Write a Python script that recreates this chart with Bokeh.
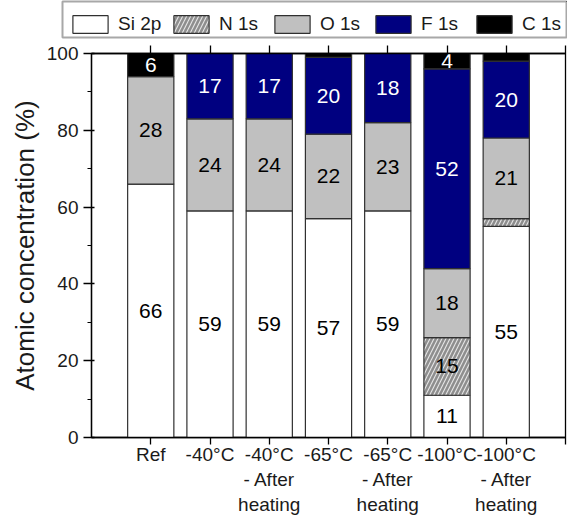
import numpy as np
from bokeh.plotting import figure
from bokeh.layouts import column
from bokeh.models import (FixedTicker, LinearAxis, Legend, LegendItem,
                          ColumnDataSource, Range1d)
from bokeh.core.properties import value
from bokeh.embed import file_html
from bokeh.resources import INLINE

categories = ["Ref", "-40°C", "-40°C\n- After\nheating", "-65°C",
              "-65°C\n- After\nheating", "-100°C", "-100°C\n- After\nheating"]
si_2p = [66, 59, 59, 57, 59, 11, 55]
n_1s = [0, 0, 0, 0, 0, 15, 2]
o_1s = [28, 24, 24, 22, 23, 18, 21]
f_1s = [0, 17, 17, 20, 18, 52, 20]
c_1s = [6, 0, 0, 1, 0, 4, 2]
series_names = ["Si 2p", "N 1s", "O 1s", "F 1s", "C 1s"]
y_ticks = [0, 20, 40, 60, 80, 100]
y_minor = [10, 30, 50, 70, 90]

FONT = "Liberation Sans"
x_pos = list(range(1, len(categories) + 1))
x_ticks = x_pos + [len(categories) + 1]

layers = [
    (si_2p, "white", " ", "black"),
    (n_1s, "#8e8e8e", "/", "black"),
    (o_1s, "#c0c0c0", " ", "black"),
    (f_1s, "#000080", " ", "white"),
    (c_1s, "black", " ", "white"),
]
bar_style = dict(line_color="#303030", line_width=1.2, hatch_color="#e6e6e6",
                 hatch_scale=8, hatch_weight=1.1)

# ---------------- main chart ----------------
p = figure(width=567, height=477, output_backend="svg", toolbar_location=None,
           x_range=Range1d(0, len(categories) + 1), y_range=Range1d(0, 100),
           min_border_left=91, min_border_right=2, min_border_top=13,
           min_border_bottom=80)
p.xgrid.visible = False
p.ygrid.visible = False
p.outline_line_color = "black"
p.outline_line_width = 1.3

xa = p.xaxis[0]
xa.ticker = FixedTicker(ticks=x_ticks)
overrides = {i + 1: c for i, c in enumerate(categories)}
overrides[len(categories) + 1] = ""
xa.major_label_overrides = overrides
xa.major_label_text_font = FONT
xa.major_label_text_font_size = "19px"
xa.major_label_text_color = "#1a1a1a"
xa.major_label_standoff = -1
xa.minor_tick_line_color = None
xa.major_tick_in = 0
xa.major_tick_out = 7
xa.major_tick_line_width = 1.3
xa.axis_line_width = 1.3

ya = p.yaxis[0]
ya.ticker = FixedTicker(ticks=y_ticks, minor_ticks=y_minor)
ya.major_label_text_font = FONT
ya.major_label_text_font_size = "19px"
ya.major_label_text_color = "#1a1a1a"
ya.major_label_standoff = 5
ya.major_tick_in = 3
ya.major_tick_out = 8
ya.minor_tick_in = 0
ya.minor_tick_out = 4
ya.major_tick_line_width = 1.3
ya.minor_tick_line_width = 1.2
ya.axis_line_width = 1.3
ya.axis_label = "Atomic concentration (%)"
ya.axis_label_text_font = FONT
ya.axis_label_text_font_size = "26px"
ya.axis_label_text_font_style = "normal"
ya.axis_label_text_color = "#1a1a1a"
ya.axis_label_standoff = 4

# top axis: tick marks only, labels not drawn
top = LinearAxis(ticker=FixedTicker(ticks=x_ticks), major_label_text_font_size="1px",
                 major_label_text_color=None, major_label_standoff=0,
                 minor_tick_line_color=None, major_tick_in=0, major_tick_out=8,
                 major_tick_line_width=1.3, axis_line_width=1.3)
p.add_layout(top, "above")

# ---------------- legend strip ----------------
# (same bar sources, but the strip's ranges keep the bars out of view)
lg = figure(width=567, height=40, output_backend="svg", toolbar_location=None,
            x_range=Range1d(-3, -2), y_range=Range1d(-3, -2),
            x_axis_type=None, y_axis_type=None,
            min_border_left=62, min_border_right=0, min_border_top=1,
            min_border_bottom=3)
lg.xgrid.visible = False
lg.ygrid.visible = False
lg.outline_line_color = "#a8a8a8"
lg.outline_line_width = 2
try:
    lg.frame_align = False
    p.frame_align = False
except Exception:
    pass

items = []
bottoms = np.zeros(len(categories))
for (vals, color, hatch, tcolor), name in zip(layers, series_names):
    vals = np.array(vals, dtype=float)
    tops = bottoms + vals
    mask = vals > 0
    src = ColumnDataSource(dict(x=np.array(x_pos)[mask], bottom=bottoms[mask],
                                top=tops[mask]))
    p.vbar(x="x", bottom="bottom", top="top", width=0.78, source=src,
           fill_color=color, hatch_pattern=hatch, **bar_style)
    r = lg.vbar(x="x", bottom="bottom", top="top", width=0.78, source=src,
                fill_color=color, hatch_pattern=hatch, **bar_style)
    items.append(LegendItem(label=name, renderers=[r]))
    lm = vals >= 3
    lsrc = ColumnDataSource(dict(x=np.array(x_pos)[lm],
                                 y=(bottoms + vals / 2)[lm],
                                 t=[str(int(v)) for v in vals[lm]]))
    p.text(x="x", y="y", text="t", source=lsrc, text_align="center",
           text_baseline="middle", text_font=value(FONT), text_font_size="21px",
           text_color=tcolor)
    bottoms = tops

legend = Legend(items=items, orientation="horizontal", location=(6, 2),
                glyph_width=44, glyph_height=22, label_standoff=6, spacing=5,
                padding=0, margin=0, label_text_font=FONT,
                label_text_font_size="19px", label_text_color="#1a1a1a",
                label_width=46, label_height=22,
                border_line_alpha=0, background_fill_alpha=0)
lg.add_layout(legend)

layout = column(lg, p, spacing=0)
open("out.html", "w").write(file_html(layout, INLINE))
